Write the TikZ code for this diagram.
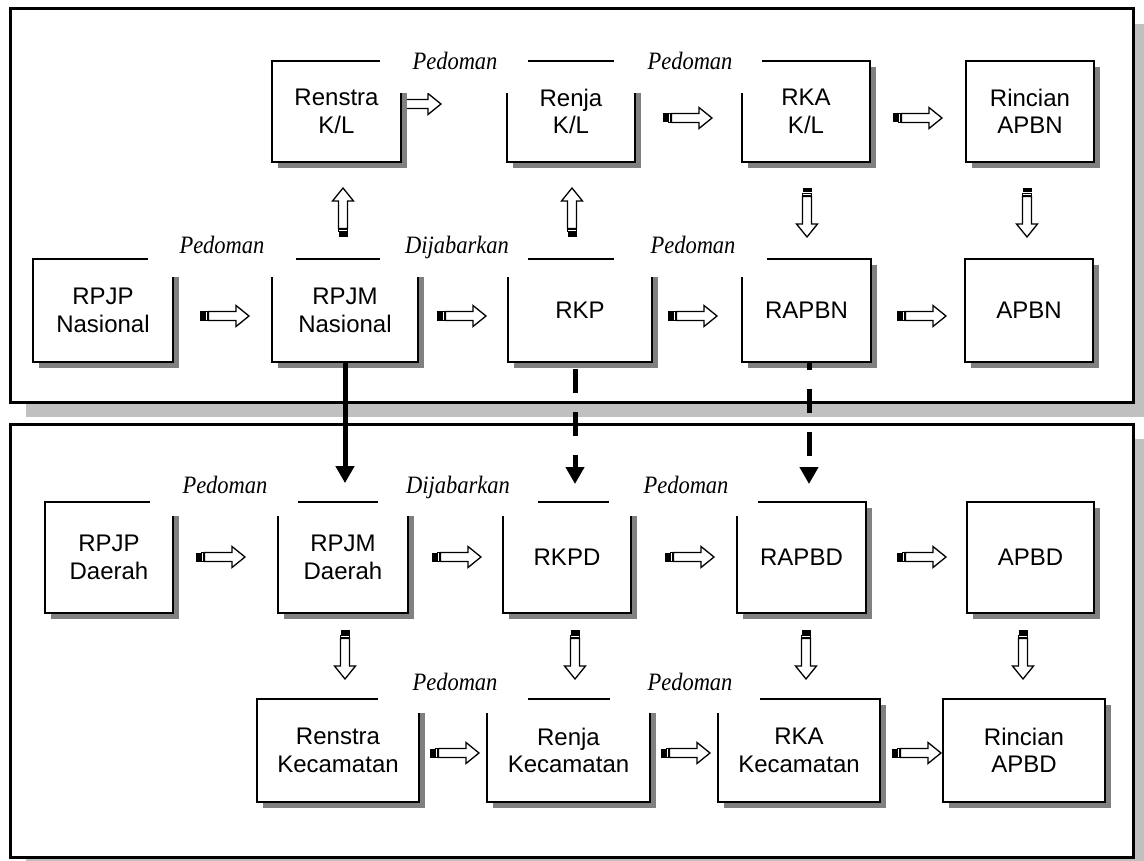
\documentclass[tikz,border=0pt]{standalone}
\usepackage{fontspec}
\usepackage{tikz}
\usetikzlibrary{shadows,arrows.meta}
\newfontfamily\boxfont{Liberation Sans}
\newfontfamily\lblfont[FakeStretch=0.9]{Liberation Serif}
\definecolor{boxshade}{HTML}{808080}
\definecolor{panelshade}{HTML}{C0C0C0}

\begin{document}
\begin{tikzpicture}[x=1pt,y=-1pt,
		box/.style={draw,line width=1.8pt,fill=white,align=center,inner sep=0pt,
			font=\boxfont\fontsize{24}{27.5}\selectfont,
			drop shadow={shadow xshift=6pt,shadow yshift=-6pt,fill=boxshade,opacity=1}},
		lbl/.style={anchor=base,inner sep=0pt,font=\lblfont\itshape\fontsize{25}{25}\selectfont},
		thickarr/.style={line width=5pt,-{Triangle[width=18pt,length=17pt]}},
		blk/.pic={
			\fill (0,-4.5) rectangle (4.5,4.5);
			\draw[line width=1pt] (5.8,-4.5) rectangle (7.6,4.5);
			\draw[fill=white,line width=1.3pt,line join=miter] (8.5,-4.5) -- (36,-4.5) -- (36,-10.5) -- (49,0) -- (36,10.5) -- (36,4.5) -- (8.5,4.5) -- cycle;
		}]
			\useasboundingbox (0,0) rectangle (1144,861);
			\fill[panelshade] (26,24) rectangle (1149,417);
			\draw[line width=3pt,fill=white] (10,9) rectangle (1133,402);
			\fill[panelshade] (26,439) rectangle (1149,872);
			\draw[line width=3pt,fill=white] (10,424) rectangle (1133,857);
			% block arrows
			\pic at (392,104) {blk};
			\pic at (663,118) {blk};
			\pic at (893,118) {blk};
			\pic at (200,316) {blk};
			\pic at (437,316) {blk};
			\pic at (668,316) {blk};
			\pic at (897,316) {blk};
			\pic at (196,557) {blk};
			\pic at (432,557) {blk};
			\pic at (665,557) {blk};
			\pic at (897,557) {blk};
			\pic at (430,753) {blk};
			\pic at (661,753) {blk};
			\pic at (892,753) {blk};
			\pic[rotate=90] at (343,237) {blk};
			\pic[rotate=90] at (572,237) {blk};
			\pic[rotate=-90] at (807,188) {blk};
			\pic[rotate=-90] at (1027,188) {blk};
			\foreach \x in {345,575,806,1023}
				\pic[rotate=-90] at (\x,630) {blk};
			% boxes
			\node[box,minimum width=129pt,minimum height=101pt] (rensk) at (336.5,111.5) {Renstra\\K/L};
			\node[box,minimum width=128pt,minimum height=101pt] (renjak) at (571,111.5) {Renja\\K/L};
			\node[box,minimum width=128pt,minimum height=101pt] (rkak) at (806,111.5) {RKA\\K/L};
			\node[box,minimum width=128pt,minimum height=101pt] (rincn) at (1030,111.5) {Rincian\\APBN};
			\node[box,minimum width=140pt,minimum height=103pt] (rpjpn) at (103,310.5) {RPJP\\Nasional};
			\node[box,minimum width=146pt,minimum height=103pt] (rpjmn) at (345,310.5) {RPJM\\Nasional};
			\node[box,minimum width=144pt,minimum height=103pt] (rkp) at (580,310.5) {RKP};
			\node[box,minimum width=129pt,minimum height=103pt] (rapbn) at (806.5,310.5) {RAPBN};
			\node[box,minimum width=128pt,minimum height=103pt] (apbn) at (1029,310.5) {APBN};
			\node[box,minimum width=128pt,minimum height=111pt] (rpjpd) at (109,557.5) {RPJP\\Daerah};
			\node[box,minimum width=130pt,minimum height=111pt] (rpjmd) at (343,557.5) {RPJM\\Daerah};
			\node[box,minimum width=128pt,minimum height=111pt] (rkpd) at (567,557.5) {RKPD};
			\node[box,minimum width=129pt,minimum height=111pt] (rapbd) at (801.5,557.5) {RAPBD};
			\node[box,minimum width=127pt,minimum height=111pt] (apbd) at (1030.5,557.5) {APBD};
			\node[box,minimum width=162pt,minimum height=103pt] (renskec) at (338,750.5) {Renstra\\Kecamatan};
			\node[box,minimum width=163pt,minimum height=103pt] (renjakec) at (568.5,750.5) {Renja\\Kecamatan};
			\node[box,minimum width=162pt,minimum height=103pt] (rkakec) at (799,750.5) {RKA\\Kecamatan};
			\node[box,minimum width=162pt,minimum height=103pt] (rincd) at (1024,750.5) {Rincian\\APBD};
			% white label boxes
			\fill[white] (380,40) rectangle (528,93);
			\fill[white] (614,40) rectangle (762,93);
			\fill[white] (148,225) rectangle (296,277);
			\fill[white] (380,225) rectangle (528,277);
			\fill[white] (614,225) rectangle (767,277);
			\fill[white] (150,470) rectangle (298,516);
			\fill[white] (378,470) rectangle (538,516);
			\fill[white] (609,470) rectangle (758,516);
			\fill[white] (378,665) rectangle (528,713);
			\fill[white] (610,665) rectangle (760,713);
			\node[lbl] (p1) at (455,70) {Pedoman};
			\node[lbl] (p2) at (690,70) {Pedoman};
			\node[lbl] (p3) at (222,254) {Pedoman};
			\node[lbl] (d1) at (457,254) {Dijabarkan};
			\node[lbl] (p4) at (693,254) {Pedoman};
			\node[lbl] (p5) at (225,493) {Pedoman};
			\node[lbl] (d2) at (458,493) {Dijabarkan};
			\node[lbl] (p6) at (686,493) {Pedoman};
			\node[lbl] (p7) at (455,690) {Pedoman};
			\node[lbl] (p8) at (690,690) {Pedoman};
			% links between the two panels
			\coordinate (tip1) at (575,484);
			\coordinate (tip2) at (809,484);
			\draw[thickarr] (rpjmn.south) -- ([yshift=18pt]rpjmd.north -| rpjmn.south);
			\draw[thickarr,dash pattern=on 24pt off 19pt] ([xshift=-5pt,yshift=-6pt]rkp.south) -- (tip1);
			\draw[thickarr,dash pattern=on 24pt off 19pt,dash phase=17pt] ([xshift=2.5pt]rapbn.south) -- (tip2);
		\end{tikzpicture}
\end{document}
